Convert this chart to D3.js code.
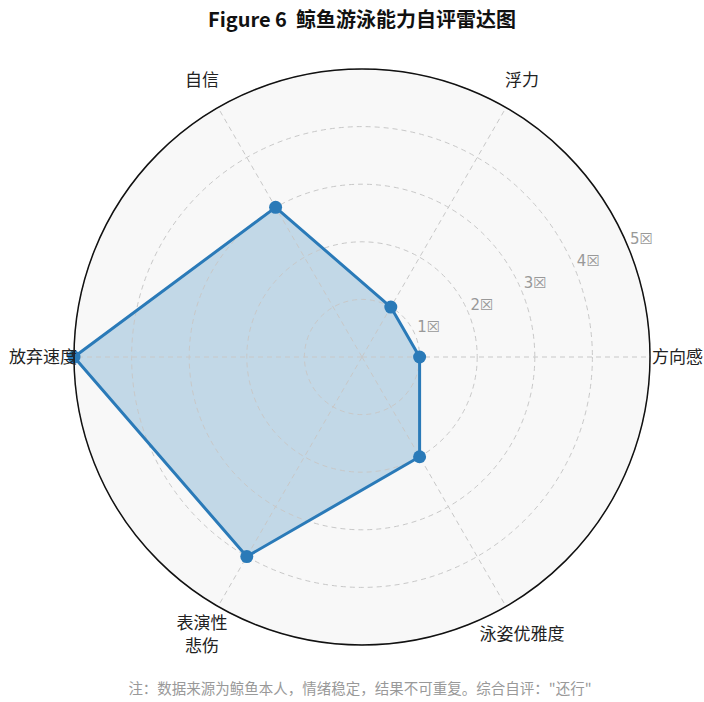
<!DOCTYPE html>
<html><head><meta charset="utf-8">
<script src="https://cdn.jsdelivr.net/npm/d3@7"></script>
<style>
body{margin:0;background:#fff;}
svg{display:block;font-family:"Noto Sans CJK SC","Noto Sans",sans-serif;}
</style></head>
<body><svg id="c" width="704" height="702"></svg>
<script>
const categories = ["方向感", "浮力", "自信", "放弃速度", "表演性\n悲伤", "泳姿优雅度"];
const values = [1, 1, 3, 5, 4, 2];
const tickValues = [1, 2, 3, 4, 5];
const tickLabels = ["1☒", "2☒", "3☒", "4☒", "5☒"];
const title = "Figure 6  鲸鱼游泳能力自评雷达图";
const footnote = "注：数据来源为鲸鱼本人，情绪稳定，结果不可重复。综合自评：\"还行\"";

const svg = d3.select("#c");
const cx = 362, cy = 357, R = 288;
const r = d3.scaleLinear().domain([0, 5]).range([0, R]);
const ang = d3.scaleLinear().domain([0, categories.length]).range([0, 2 * Math.PI]);
const px = (i, v) => cx + r(v) * Math.cos(ang(i));
const py = (i, v) => cy - r(v) * Math.sin(ang(i));

svg.append("text").attr("x", 362).attr("y", 27).attr("text-anchor", "middle")
  .attr("font-size", 20).attr("font-weight", "bold").attr("fill", "#111").attr("xml:space", "preserve").text(title);

svg.append("circle").attr("cx", cx).attr("cy", cy).attr("r", R).attr("fill", "#f8f8f8");

// polygon
const pts = values.map((v, i) => [px(i, v), py(i, v)]);
svg.append("path").attr("d", d3.line().curve(d3.curveLinearClosed)(pts))
  .attr("fill", "#1f77b4").attr("fill-opacity", 0.25).attr("stroke", "none");

// grid
const g = svg.append("g").attr("fill", "none").attr("stroke", "#c8c8c8").attr("stroke-width", 1).attr("stroke-dasharray", "5,4");
tickValues.forEach(t => g.append("circle").attr("cx", cx).attr("cy", cy).attr("r", r(t)));
categories.forEach((c, i) => g.append("line").attr("x1", cx).attr("y1", cy).attr("x2", px(i, 5)).attr("y2", py(i, 5)));

svg.append("path").attr("d", d3.line().curve(d3.curveLinearClosed)(pts))
  .attr("fill", "none").attr("stroke", "#2a7ab8").attr("stroke-width", 3).attr("stroke-linejoin", "round");
svg.selectAll("circle.pt").data(values).enter().append("circle").attr("class", "pt")
  .attr("cx", (v, i) => px(i, v)).attr("cy", (v, i) => py(i, v)).attr("r", 6.5).attr("fill", "#2a7ab8");

svg.append("circle").attr("cx", cx).attr("cy", cy).attr("r", R).attr("fill", "none").attr("stroke", "#111").attr("stroke-width", 1.5);

// r tick labels at 22.5 deg
const ra = 22.5 * Math.PI / 180;
tickValues.forEach((t, k) => {
  svg.append("text").attr("x", cx + r(t) * Math.cos(ra) + 2).attr("y", cy - r(t) * Math.sin(ra) - 3)
    .attr("font-size", 15).attr("fill", "#999").attr("font-family", "DejaVu Sans, sans-serif").text(tickLabels[k]);
});

// category labels
categories.forEach((c, i) => {
  const a = ang(i);
  const cosA = Math.cos(a);
  let anchor = "middle", rr = 320;
  if (Math.abs(cosA) > 0.99) { rr = 290; anchor = cosA > 0 ? "start" : "end"; }
  const x = cx + rr * cosA + (cosA < -0.99 ? 5 : 0), y = cy - rr * Math.sin(a);
  const lines = c.split("\n");
  const lh = 23;
  const t = svg.append("text").attr("text-anchor", anchor).attr("font-size", 17).attr("fill", "#222");
  lines.forEach((l, j) => {
    t.append("tspan").attr("x", x).attr("y", y + (j - (lines.length - 1) / 2) * lh + 6).text(l);
  });
});

svg.append("text").attr("x", 360).attr("y", 694).attr("text-anchor", "middle")
  .attr("font-size", 14.5).attr("fill", "#999").text(footnote);
</script></body></html>
